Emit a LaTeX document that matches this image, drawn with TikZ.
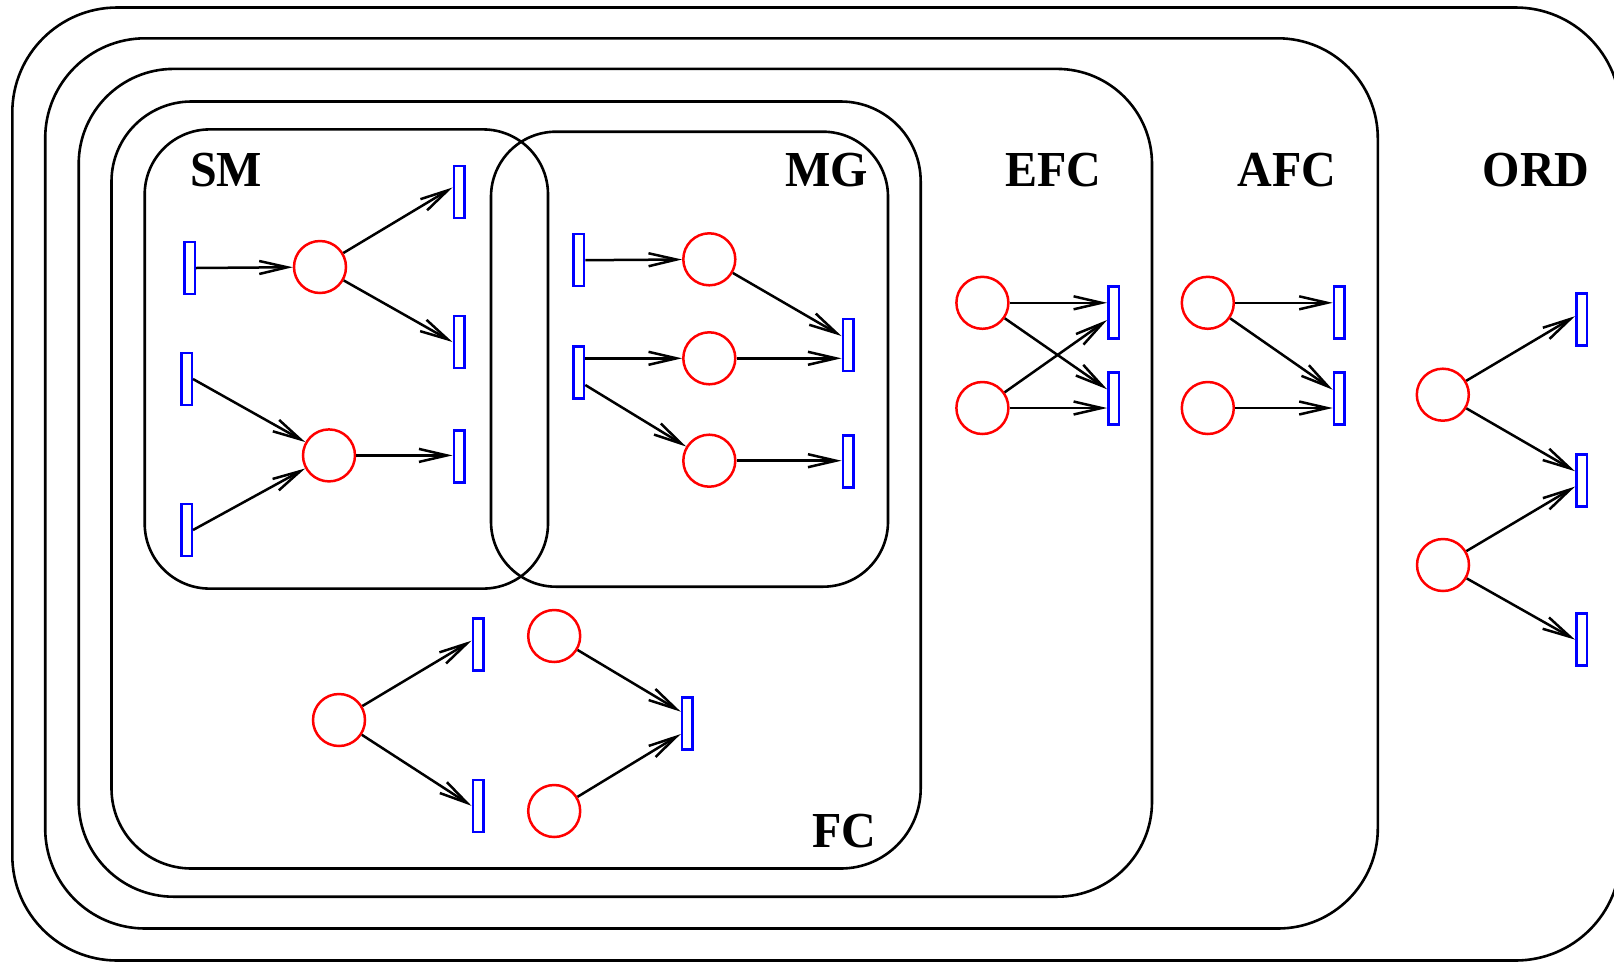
\documentclass[tikz,border=0pt]{standalone}
\usepackage{fontspec}
\setmainfont{Liberation Serif}
\usetikzlibrary{arrows.meta}
\begin{document}
\begin{tikzpicture}[x=1pt,y=-1pt,
  box/.style={line width=2.6pt, draw=black},
  transnode/.style={draw=blue, line width=2.5pt, rectangle, minimum width=10.5pt, minimum height=52pt, inner sep=0pt},
  placenode/.style={draw=red, line width=2.5pt, circle, minimum size=52pt, inner sep=0pt},
  flow/.style={line width=2.5pt, -{Straight Barb[length=28pt,width=13pt]}},
  lbl/.style={font=\bfseries\fontsize{48}{48}\selectfont, anchor=base, inner sep=0pt, yscale=1.05}]
\useasboundingbox (0,0) rectangle (1614,962);
% nested classes
\draw[box, rounded corners=105pt] (12.3,7.5) rectangle (1620.5,960.5);
\draw[box, rounded corners=100pt] (45.2,38.3) rectangle (1377.8,928.5);
\draw[box, rounded corners=95pt] (78.7,68.9) rectangle (1152,896.7);
\draw[box, rounded corners=80pt] (111.5,101.5) rectangle (920.7,868.5);
\draw[box, rounded corners=65pt] (144.7,129.4) rectangle (548,588.6);
\draw[box, rounded corners=65pt] (491,131.7) rectangle (888,586.7);
% labels
\node[lbl] (lSM) at (226,186.5) {SM};
\node[lbl] (lMG) at (826.7,186.5) {MG};
\node[lbl] (lEFC) at (1053,186.5) {EFC};
\node[lbl] (lAFC) at (1287,186.5) {AFC};
\node[lbl] (lORD) at (1536,186.5) {ORD};
\node[lbl] (lFC) at (844,847) {FC};
% SM
\node[transnode] (T1) at (189.5,268) {};
\node[transnode] (T2) at (186.5,379) {};
\node[transnode] (T3) at (186.5,530) {};
\node[placenode] (P1) at (320,267) {};
\node[placenode] (P2) at (329,455.4) {};
\node[transnode] (T4) at (459,192) {};
\node[transnode] (T5) at (459,342) {};
\node[transnode] (T6) at (459,456.4) {};
% MG
\node[transnode] (T7) at (578.8,260.2) {};
\node[transnode] (T8) at (578.8,372.5) {};
\node[placenode] (P3) at (709.3,259.3) {};
\node[placenode] (P4) at (709.3,358.3) {};
\node[placenode] (P5) at (709.3,460.7) {};
\node[transnode] (T9) at (848,345) {};
\node[transnode] (T10) at (848,461.5) {};
% EFC
\node[placenode] (P6) at (982.4,302.8) {};
\node[placenode] (P7) at (982.4,408) {};
\node[transnode] (T11) at (1113.6,312.4) {};
\node[transnode] (T12) at (1113.6,398.3) {};
% AFC
\node[placenode] (P8) at (1207.8,302.8) {};
\node[placenode] (P9) at (1207.8,408) {};
\node[transnode] (T13) at (1339.2,312.4) {};
\node[transnode] (T14) at (1339.2,398.3) {};
% ORD
\node[placenode] (P10) at (1442.8,394.7) {};
\node[placenode] (P11) at (1443,565) {};
\node[transnode] (T15) at (1581.5,319.7) {};
\node[transnode] (T16) at (1581.5,480.6) {};
\node[transnode] (T17) at (1581.5,639.6) {};
% FC
\node[placenode] (P12) at (339,720) {};
\node[transnode] (T18) at (478,644.3) {};
\node[transnode] (T19) at (478,805.8) {};
\node[placenode] (P13) at (554.2,636) {};
\node[placenode] (P14) at (554.2,811) {};
\node[transnode] (T20) at (687.3,723.5) {};
% arcs SM
\draw[flow] (T1.east) -- (P1);
\draw[flow] (P1) -- ([yshift=4.5pt]T4.west);
\draw[flow] (P1) -- (T5.west);
\draw[flow] (T2.east) -- (P2);
\draw[flow] (T3.east) -- (P2);
\draw[flow] (P2) -- (P2 -| T6.west);
% arcs MG
\draw[flow] (T7.east) -- (P3);
\draw[flow] (T8.east |- P4) -- (P4);
\draw[flow] ([yshift=-12.5pt]T8.east) -- (P5);
\draw[flow] (P3) -- ([yshift=9pt]T9.west);
\draw[flow] (P4) -- (P4 -| T9.west);
\draw[flow] (P5) -- (P5 -| T10.west);
% arcs EFC
\draw[flow] (P6) -- (P6 -| T11.west);
\draw[flow] (P6) -- ([yshift=9pt]T12.west);
\draw[flow] (P7) -- ([yshift=-7.6pt]T11.west);
\draw[flow] (P7) -- (P7 -| T12.west);
% arcs AFC
\draw[flow] (P8) -- (P8 -| T13.west);
\draw[flow] (P8) -- ([yshift=8.6pt]T14.west);
\draw[flow] (P9) -- (P9 -| T14.west);
% arcs ORD
\draw[flow] (P10) -- ([yshift=3.5pt]T15.west);
\draw[flow] (P10) -- ([yshift=9.4pt]T16.west);
\draw[flow] (P11) -- ([yshift=-6pt]T16.west);
\draw[flow] (P11) -- (T17.west);
% arcs FC
\draw[flow] (P12) -- ([yshift=3.6pt]T18.west);
\draw[flow] (P12) -- (T19.west);
\draw[flow] (P13) -- ([yshift=11.8pt]T20.west);
\draw[flow] (P14) -- ([yshift=-10.5pt]T20.west);
\end{tikzpicture}
\end{document}
